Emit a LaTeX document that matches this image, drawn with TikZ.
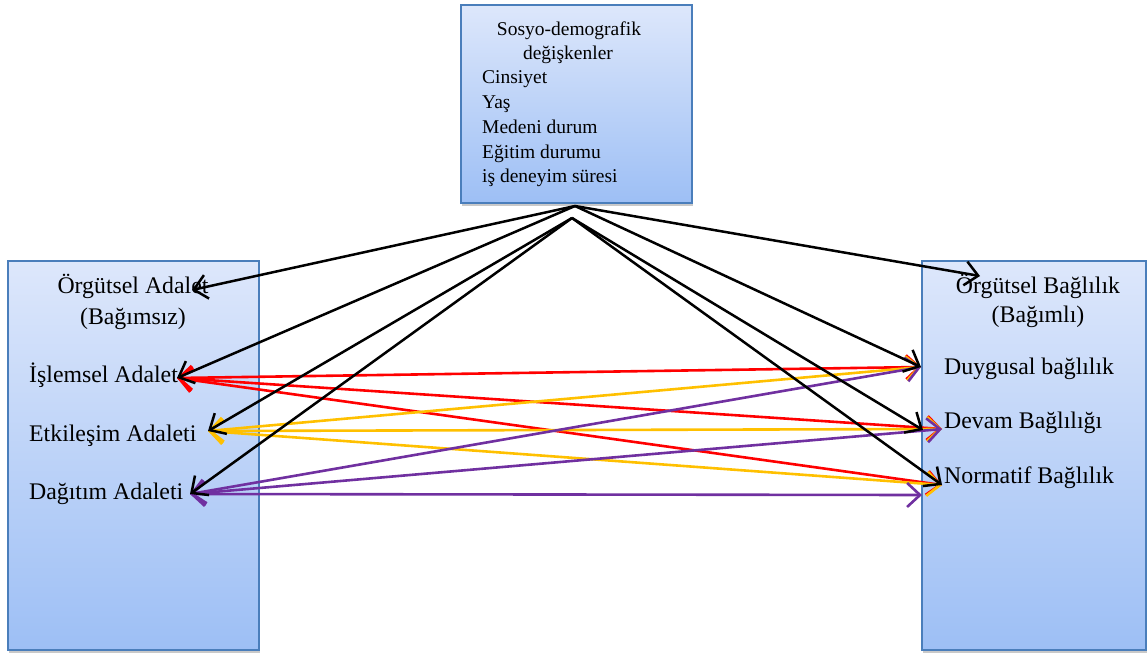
\documentclass[tikz,border=0pt]{standalone}
\usepackage{fontspec}
\setmainfont{Liberation Serif}
\usetikzlibrary{arrows.meta,shadows}
\definecolor{boxtop}{HTML}{DDE7FB}
\definecolor{boxbot}{HTML}{9DBFF5}
\definecolor{boxline}{HTML}{4A7EBB}
\definecolor{cred}{HTML}{FF0000}
\definecolor{cyel}{HTML}{FFC000}
\definecolor{cpur}{HTML}{7030A0}
\begin{document}
\begin{tikzpicture}[x=1pt,y=-1pt,
  panel/.style={draw=boxline,line width=1.5pt,top color=boxtop,bottom color=boxbot,
    drop shadow={shadow xshift=1pt,shadow yshift=-3pt,opacity=0.3,fill=black!70},
    inner sep=0pt,outer sep=0pt},
  lbl/.style={inner sep=0pt,font=\fontsize{19.5}{24}\selectfont},
  lblbig/.style={inner sep=0pt,font=\fontsize{23.8}{28}\selectfont},
  blackarr/.style={draw=black,line width=2.5pt,-{Straight Barb[length=13pt,width=24pt]}},
  colarr/.style={draw=#1,line width=2.6pt,{Straight Barb[length=13pt,width=24pt]}-{Straight Barb[length=13pt,width=24pt]}}
]
\useasboundingbox (0,0) rectangle (1147,653);
% panels
\node[panel,minimum width=231pt,minimum height=198pt] (src) at (576.5,104) {};
\node[panel,minimum width=251pt,minimum height=389pt] (left) at (133.5,455.5) {};
\node[panel,minimum width=224pt,minimum height=389pt] (right) at (1034,455.5) {};
% top texts
\node[lbl,anchor=base] (t1) at (569,35) {Sosyo-demografik};
\node[lbl,anchor=base] (t2) at (568,59) {değişkenler};
\node[lbl,anchor=base west] (t3) at (482,83) {Cinsiyet};
\node[lbl,anchor=base west] (t4) at (482,108) {Yaş};
\node[lbl,anchor=base west] (t5) at (482,133) {Medeni durum};
\node[lbl,anchor=base west] (t6) at (482,158) {Eğitim durumu};
\node[lbl,anchor=base west] (t7) at (482,182) {iş deneyim süresi};
% left texts
\node[lblbig,anchor=base] (l1) at (133,293) {Örgütsel Adalet};
\node[lblbig,anchor=base] (l2) at (133,324) {(Bağımsız)};
\node[lblbig,anchor=base west] (l3) at (29,382) {İşlemsel Adalet};
\node[lblbig,anchor=base west] (l4) at (29,441) {Etkileşim Adaleti};
\node[lblbig,anchor=base west] (l5) at (29,499) {Dağıtım Adaleti};
% right texts
\node[lblbig,anchor=base] (r1) at (1038,293) {Örgütsel Bağlılık};
\node[lblbig,anchor=base] (r2) at (1038,322) {(Bağımlı)};
\node[lblbig,anchor=base west] (r3) at (944,374) {Duygusal bağlılık};
\node[lblbig,anchor=base west] (r4) at (944,428) {Devam Bağlılığı};
\node[lblbig,anchor=base west] (r5) at (944,483) {Normatif Bağlılık};
% connector end points
\coordinate (s1) at (575,206);
\coordinate (s2) at (572,218);
\coordinate (pOA) at (192,290);
\coordinate (pIS) at (177,378);
\coordinate (pET) at (208,431);
\coordinate (pDA) at (190,494);
\coordinate (pOB) at (980,276);
\coordinate (pDU) at (921,367);
\coordinate (pDEb) at (923,430);
\coordinate (pDE) at (942,429);
\coordinate (pNO) at (942,485);
\coordinate (pNOp) at (922,495);
% coloured connectors
\draw[colarr=cred] (pIS) -- (pDU);
\draw[colarr=cred] (pIS) -- (pDE);
\draw[colarr=cred] (pIS) -- (pNO);
\draw[colarr=cyel] (pET) -- (pDU);
\draw[colarr=cyel] (pET) -- (pDE);
\draw[colarr=cyel] (pET) -- (pNO);
\draw[colarr=cpur] (pDA) -- (pDU);
\draw[colarr=cpur] (pDA) -- (pDE);
\draw[colarr=cpur] (pDA) -- (pNOp);
% black connectors
\draw[blackarr] (s1) -- (pOA);
\draw[blackarr] (s1) -- (pIS);
\draw[blackarr] (s2) -- (pET);
\draw[blackarr] (s2) -- (pDA);
\draw[blackarr] (s1) -- (pOB);
\draw[blackarr] (s1) -- (pDU);
\draw[blackarr] (s2) -- (pDEb);
\draw[blackarr] (s2) -- (pNO);
\end{tikzpicture}
\end{document}
